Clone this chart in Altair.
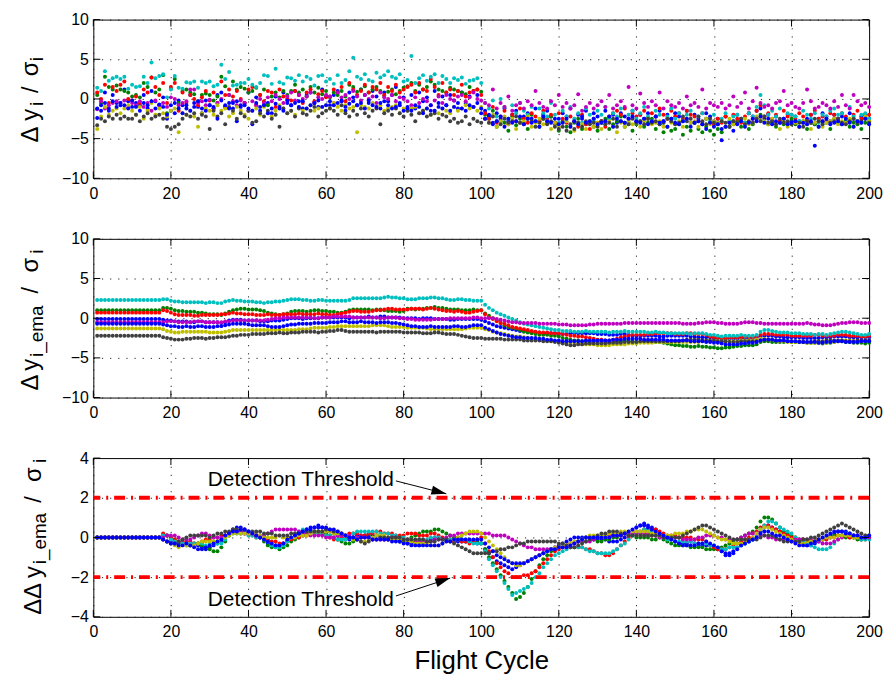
import math
import altair as alt
import pandas as pd

FONT = "Liberation Sans, Arial, Helvetica, sans-serif"
W, H = 782, 160

X_TICKS = list(range(0, 201, 20))
Y12_TICKS = [-10, -5, 0, 5, 10]
Y3_TICKS = [-4, -2, 0, 2, 4]
SERIES = ["b1", "g", "r", "c", "m", "y", "k", "b2"]
COLORS = ["#0000FF", "#008000", "#FF0000", "#00BFBF", "#BF00BF", "#BFBF00", "#404040", "#0000FF"]

# ---------- panel 1: raw normalised deltas (x10) ----------
RAW_B1 = """
-24 -15 8 -12 5 -5 -8 12 -3 -10 -5 -8 5 -12 10 -3 -8 2 -25 -15
-18 -2 -8 -12 5 -5 -10 -18 -2 -8 -12 5 8 -10 -5 -12 -28 -8 -5 8
-32 2 -15 -8 -5 -18 3 -12 8 -5 -8 10 -3 -12 5 8 -5 -10 12 3
-8 5 10 -3 -15 8 2 -8 12 5 -5 10 3 -12 8 -3 5 15 -8 2
-10 5 -12 8 -3 2 -15 10 -5 3 -8 5 -2 -12 8 -5 3 -10 5 -18
-15 -22 -30 -18 -25 -12 -28 -20 -15 -30 -22 -18 -25 -12 -28 -20 -15 -22 -30 -25
-18 -22 -12 -28 -20 -25 -15 -30 -18 -22 -28 -15 -25 -20 -30 -18 -22 -25 -15 -28
-20 -25 -18 -30 -22 -15 -28 -20 -25 -18 -22 -28 -15 -30 -20 -25 -32 -18 -22 -28
-25 -52 -22 -35 -28 -20 -25 -30 -18 -22 -15 -12 -25 -20 -28 -22 -30 -25 -20 -28
-22 -28 -30 -25 -20 -32 -25 -18 -22 -28 -20 -25 -22 -30 -18 -25 -28 -22 -20 -25
"""
RAW_G = """
5 -5 28 15 12 17 12 10 8 3 5 2 20 15 27 8 12 30 -18 13
25 -5 10 12 8 6 -3 5 7 5 -2 3 28 16 5 22 12 15 13 8
10 14 5 12 -8 3 8 2 10 5 10 18 8 12 3 15 8 14 6 10
2 8 5 10 3 18 15 9 12 16 8 12 15 10 4 9 12 6 10 14
16 20 10 18 12 15 22 18 12 10 8 14 12 10 8 6 15 10 12 9
-20 -25 -15 -35 -28 -30 -40 -22 -33 -25 -30 -38 -20 -28 -35 -25 -30 -22 -32 -40
-28 -35 -42 -30 -25 -38 -32 -28 -35 -40 -30 -25 -38 -32 -28 -22 -35 -30 -40 -32
-28 -35 -30 -25 -38 -32 -42 -35 -40 -38 -32 -45 -35 -40 -30 -38 -42 -35 -40 -45
-38 -42 -35 -30 -32 -28 -35 -30 -38 -32 -25 -20 -28 -32 -30 -35 -28 -32 -30 -25
-32 -35 -28 -38 -30 -32 -35 -28 -30 -38 -25 -30 -32 -28 -35 -30 -32 -38 -30 -28
"""
RAW_R = """
8 0 18 -5 15 10 18 22 0 -2 3 -5 12 8 27 15 5 20 -5 15
20 -15 8 -5 5 0 -8 2 10 -2 8 -5 22 5 12 3 10 0 -5 12
15 -8 5 -3 10 8 -10 12 3 0 -2 10 5 -5 8 12 -3 6 10 2
3 12 8 15 -3 20 12 5 10 18 8 15 12 20 5 15 10 18 8 12
15 18 8 20 12 10 25 15 5 20 8 12 5 10 18 3 8 10 12 5
-18 -25 -10 -30 -22 -15 -32 -20 -28 -12 -25 -30 -18 -22 -28 -15 -25 -20 -30 -18
-25 -30 -22 -28 -35 -20 -32 -38 -25 -30 -28 -35 -22 -18 -15 -20 -12 -25 -18 -22
-20 -15 -25 -18 -22 -12 -20 -25 -15 -22 -18 -25 -15 -20 -22 -28 -18 -25 -30 -32
-25 -30 -22 -28 -20 -25 -30 -22 -18 -25 -15 -8 -22 -18 -25 -20 -28 -15 -22 -20
-25 -18 -22 -28 -20 -15 -25 -22 -28 -18 -20 -25 -18 -22 -28 -20 -15 -25 -22 -20
"""
RAW_C = """
14 10 35 23 26 28 25 28 13 18 15 16 28 20 46 26 29 31 2 12
29 14 13 21 20 22 14 22 20 22 16 18 43 25 34 17 18 20 20 25
18 15 20 30 29 19 38 21 19 27 26 23 30 22 28 25 17 29 30 22
25 19 30 20 24 35 52 28 25 31 24 22 33 27 30 35 28 26 31 22
24 54 20 26 30 23 28 31 20 29 25 20 26 24 27 19 23 24 26 20
-5 -12 -2 -22 0 -10 -25 -8 -18 -5 -15 -20 -10 -28 -12 -18 -22 -5 -20 -30
-15 -22 -10 -25 -18 -30 -12 -20 -28 -15 -20 -10 -25 -18 -22 -12 -30 -20 -15 -25
-18 -10 -22 -28 -15 -20 -30 -22 -12 -25 -18 -28 -20 -15 -30 -22 -18 -25 -28 -20
-30 -25 -18 -28 -22 -20 -25 -30 -18 -22 -10 5 -8 -20 -15 -22 -12 -25 -18 -20
-22 -28 -15 -20 -25 -18 -30 -20 -22 -15 -12 -20 -18 -25 -10 -22 -28 -20 -18 -25
"""
RAW_M = """
-13 -3 -12 -8 -5 -3 -5 -2 -10 -5 -8 -3 -10 -5 -15 -2 -8 -5 -10 2
0 -8 -5 -3 12 12 -5 -3 -8 -1 -12 -5 0 -10 5 -3 -8 -2 -5 -15
-3 -8 0 -5 2 -3 5 0 -5 3 8 -2 5 0 3 8 -5 2 0 5
3 -5 8 2 5 0 10 3 -2 5 0 3 -5 8 2 0 5 -3 2 0
-3 -8 2 -5 0 -3 -8 -2 3 -5 5 0 -2 3 5 -3 2 8 0 -2
-5 -8 12 -12 -5 -10 3 -15 -8 -5 -12 -3 -8 10 -5 -10 -12 -3 -8 5
-10 -5 -12 -8 6 -15 -10 -5 -12 -8 -3 -10 5 -12 -8 -3 -10 15 -8 -12
7 -5 -10 -3 -8 8 -12 -3 -8 -10 -5 -12 3 -8 -5 -10 12 -12 -5 -8
-10 -5 -12 -8 3 -10 -5 8 -12 -3 14 -5 -10 -8 -12 -5 -3 10 -8 -5
-10 -12 -5 12 -3 -12 -10 -5 -8 -12 -3 -10 5 -8 -12 5 -3 -8 -5 -10
"""
RAW_Y = """
-38 -22 -10 -20 -15 -12 -18 -12 -8 -15 -20 -10 -25 -15 -5 -20 -12 -18 -22 -15
-12 -42 -18 -20 -15 -22 -35 -18 -12 -15 -20 -8 -15 -12 -22 -18 -10 -15 -20 -25
-15 -12 -20 -10 -18 -22 -15 -8 -12 -18 -15 -20 -10 -15 -12 -8 -15 -12 -10 -8
-12 -5 -10 -15 -8 -12 -10 -42 -8 -10 -12 -5 -10 -8 -15 -12 -10 -8 -18 -12
-15 -12 -10 -18 -15 -12 -20 -15 -18 -12 -15 -18 -10 -15 -12 -8 -12 -10 -15 -10
-25 -30 -20 -35 -28 -22 -32 -25 -38 -30 -28 -22 -35 -30 -25 -32 -28 -38 -30 -35
-30 -28 -35 -40 -30 -32 -38 -28 -35 -30 -38 -32 -28 -35 -42 -30 -35 -28 -32 -30
-35 -28 -25 -32 -30 -28 -35 -25 -30 -32 -28 -35 -25 -30 -28 -35 -30 -25 -32 -28
-30 -28 -35 -25 -32 -30 -28 -25 -32 -30 -22 -25 -28 -32 -25 -30 -38 -28 -35 -32
-30 -35 -28 -32 -38 -30 -28 -35 -30 -28 -25 -32 -28 -30 -25 -35 -28 -30 -22 -28
"""
RAW_K = """
-33 -25 -28 -22 -25 -20 -25 -22 -25 -25 -20 -28 -22 -18 -25 -22 -20 -25 -35 -38
-35 -32 -25 -20 -22 -18 -25 -20 -22 -38 -15 -22 -18 -32 -10 -15 -25 -18 -22 -15
-30 -28 -18 -22 -15 -25 -20 -35 -12 -18 -15 -22 -12 -18 -20 -15 -10 -22 -18 -15
-12 -15 -20 -8 -18 -22 -15 -20 -12 -18 -22 -15 -12 -32 -18 -15 -20 -12 -18 -22
-15 -20 -28 -18 -15 -22 -20 -18 -25 -20 -22 -28 -25 -30 -28 -22 -32 -25 -28 -30
-25 -30 -22 -28 -32 -25 -30 -28 -22 -30 -32 -25 -28 -35 -30 -25 -32 -28 -35 -38
-35 -40 -32 -38 -30 -35 -28 -32 -30 -35 -28 -32 -30 -25 -35 -28 -30 -32 -25 -30
-28 -32 -25 -30 -28 -32 -30 -25 -28 -32 -30 -22 -28 -25 -30 -22 -28 -32 -25 -30
-32 -28 -30 -35 -28 -30 -25 -32 -28 -30 -25 -28 -22 -30 -28 -32 -25 -30 -28 -32
-28 -30 -35 -28 -30 -25 -28 -32 -25 -30 -28 -25 -30 -32 -28 -25 -30 -28 -25 -30
"""
RAW_B2 = """
-12 -8 -5 -15 -3 -10 -5 -8 -12 -2 -10 -15 -5 -8 -3 -12 -7 -10 -20 -8
-5 -12 -18 -8 -15 -10 -3 -12 -15 -8 -10 -25 -2 -8 -12 -5 -3 -10 -8 -12
-15 -5 -10 -8 -18 -12 -6 -10 -15 -2 -8 -5 -10 -3 -12 -8 -5 -2 -10 -8
-3 -8 -5 -2 -10 -6 -3 -8 -5 -12 -2 -8 -10 -5 -3 -8 -12 -10 -5 -15
-12 -15 -8 -10 -18 -12 -8 -15 -10 -12 -8 -15 -10 -5 -12 -15 -8 -10 -5 -12
-25 -20 -32 -28 -22 -35 -25 -30 -28 -22 -32 -25 -30 -28 -35 -22 -28 -30 -25 -32
-30 -25 -35 -28 -32 -22 -30 -28 -25 -32 -30 -28 -22 -35 -25 -28 -30 -25 -22 -28
-30 -25 -32 -28 -22 -30 -28 -35 -25 -30 -32 -28 -25 -35 -30 -28 -32 -38 -30 -35
-32 -38 -35 -30 -40 -32 -28 -35 -30 -25 -28 -22 -30 -25 -32 -28 -30 -25 -32 -30
-28 -35 -30 -32 -28 -59 -35 -28 -25 -32 -30 -28 -32 -25 -30 -35 -28 -30 -25 -32
"""

# ---------- panel 2: EMA of normalised deltas (x10) ----------
EMA_B1 = """
-1 -1 -1 -1 -1 -1 -1 -1 -1 -1 -1 -1 -1 -1 -1 -1 -1 -2 -3 -3
-4 -4 -4 -4 -5 -5 -4 -4 -5 -5 -5 -5 -6 -5 -3 -2 -2 -2 -3 -3
-3 -3 -4 -4 -4 -3 -3 -3 -2 -1 0 0 0 -1 0 0 0 0 1 1
1 1 1 1 1 0 1 1 1 1 2 1 1 2 2 1 1 1 1 0
0 0 0 -1 0 0 0 -1 -1 -1 -1 -2 -2 -1 -1 -1 -1 -1 -1 -2
-4 -6 -8 -10 -11 -12 -13 -14 -15 -16 -16 -17 -17 -18 -18 -19 -19 -19 -19 -20
-20 -20 -19 -19 -19 -19 -19 -19 -19 -20 -20 -20 -21 -21 -21 -20 -20 -21 -22 -22
-22 -22 -22 -22 -22 -23 -23 -22 -22 -22 -22 -22 -22 -23 -23 -24 -24 -24 -24 -25
-25 -26 -26 -26 -26 -26 -25 -25 -25 -25 -24 -23 -22 -22 -22 -23 -23 -24 -24 -24
-24 -24 -25 -25 -25 -25 -25 -24 -24 -24 -23 -23 -23 -23 -24 -24 -24 -24 -24 -24
"""
EMA_G = """
10 10 10 10 10 10 10 10 10 10 10 10 10 10 10 10 10 13 13 12
10 9 9 8 8 8 7 7 6 5 5 5 4 6 8 10 11 12 12 11
11 11 10 9 7 6 5 4 5 6 8 9 9 9 8 9 10 10 9 9
8 8 7 7 8 10 11 11 11 11 11 10 11 11 10 9 9 9 8 9
12 12 11 12 12 13 13 14 13 13 12 11 11 11 10 10 10 11 10 10
6 3 0 -3 -6 -9 -11 -12 -13 -15 -17 -18 -19 -20 -21 -21 -21 -22 -22 -23
-25 -26 -27 -28 -28 -29 -29 -30 -29 -30 -30 -30 -31 -30 -29 -29 -28 -29 -29 -30
-30 -29 -29 -29 -30 -30 -31 -32 -33 -34 -34 -35 -35 -36 -36 -35 -36 -36 -37 -37
-38 -38 -37 -37 -36 -35 -35 -34 -34 -34 -33 -30 -29 -29 -30 -30 -30 -30 -29 -30
-30 -30 -30 -31 -31 -31 -31 -32 -31 -31 -30 -29 -29 -30 -30 -31 -31 -31 -32 -31
"""
EMA_R = """
7 7 7 7 7 7 7 7 7 7 7 7 7 7 7 7 7 10 9 7
5 4 4 4 4 3 3 4 4 4 4 4 5 5 6 7 6 6 5 5
5 4 4 4 5 4 4 4 5 5 5 5 6 5 5 5 5 6 5 5
4 4 5 6 7 8 9 9 8 8 8 9 10 10 11 12 12 11 11 11
11 12 12 12 11 12 13 12 11 10 9 9 8 9 8 7 7 8 9 10
5 1 -1 -4 -6 -7 -9 -11 -12 -13 -14 -15 -16 -17 -18 -18 -18 -19 -19 -19
-20 -21 -22 -22 -23 -23 -24 -25 -26 -27 -27 -28 -28 -27 -26 -24 -23 -22 -21 -21
-21 -21 -20 -20 -19 -19 -19 -19 -19 -20 -20 -20 -19 -19 -20 -20 -20 -21 -23 -24
-25 -25 -25 -24 -24 -24 -24 -23 -24 -24 -23 -21 -20 -20 -20 -21 -21 -21 -21 -22
-22 -22 -22 -22 -22 -21 -21 -22 -22 -22 -22 -21 -21 -21 -22 -22 -22 -23 -23 -22
"""
EMA_C = """
23 23 23 23 23 23 23 23 23 23 23 23 23 23 23 23 23 24 24 22
21 21 20 20 20 20 20 20 19 20 20 19 19 21 22 23 22 22 21 21
21 20 20 19 20 20 21 21 22 23 24 24 24 23 23 22 22 23 23 22
22 22 22 22 22 23 25 25 25 25 25 25 25 25 26 27 26 26 25 25
24 24 24 25 25 25 26 26 25 25 24 23 23 24 24 23 23 22 22 22
17 13 10 7 5 3 1 -1 -3 -5 -7 -8 -9 -10 -11 -12 -13 -14 -15 -15
-16 -16 -16 -17 -17 -17 -16 -17 -17 -17 -17 -17 -18 -17 -17 -17 -16 -17 -17 -17
-17 -17 -18 -18 -17 -18 -18 -19 -19 -19 -19 -19 -19 -20 -19 -19 -19 -20 -21 -21
-22 -23 -22 -22 -22 -22 -21 -22 -22 -22 -21 -17 -15 -15 -16 -17 -18 -18 -18 -19
-19 -19 -20 -20 -20 -21 -20 -20 -21 -20 -19 -18 -17 -17 -18 -19 -20 -21 -21 -20
"""
EMA_M = """
-5 -5 -5 -5 -5 -5 -5 -5 -5 -5 -5 -5 -5 -5 -5 -5 -5 -5 -4 -4
-4 -5 -5 -5 -5 -4 -4 -4 -5 -5 -5 -5 -5 -4 -4 -3 -3 -3 -3 -3
-3 -3 -3 -3 -2 -1 0 0 1 1 1 1 1 1 1 1 0 0 1 1
1 2 2 2 2 2 1 1 1 1 1 1 1 0 0 1 1 1 0 0
-1 -1 -2 -2 -2 -2 -2 -1 -1 -1 -1 0 0 0 0 0 0 1 1 0
0 0 0 -1 -2 -3 -4 -5 -5 -6 -6 -6 -6 -6 -7 -7 -7 -7 -7 -8
-8 -8 -9 -9 -9 -9 -9 -8 -8 -7 -7 -7 -7 -7 -7 -7 -6 -6 -6 -6
-6 -6 -6 -6 -6 -6 -6 -6 -6 -6 -6 -7 -7 -7 -7 -6 -6 -5 -5 -5
-6 -6 -7 -7 -7 -7 -6 -5 -5 -5 -6 -6 -7 -7 -7 -7 -7 -7 -7 -7
-7 -7 -7 -6 -7 -8 -8 -9 -9 -9 -8 -7 -6 -6 -5 -5 -5 -6 -6 -6
"""
EMA_Y = """
-13 -13 -13 -13 -13 -13 -13 -13 -13 -13 -13 -13 -13 -13 -13 -13 -13 -14 -16 -17
-18 -18 -17 -17 -17 -17 -17 -17 -17 -18 -18 -18 -18 -17 -16 -15 -15 -15 -15 -15
-15 -15 -15 -15 -15 -15 -15 -14 -15 -15 -15 -15 -14 -14 -14 -13 -12 -12 -12 -12
-11 -11 -10 -10 -10 -10 -10 -10 -10 -10 -10 -9 -9 -9 -9 -10 -11 -11 -11 -11
-12 -12 -12 -12 -12 -13 -14 -14 -14 -14 -14 -14 -14 -14 -14 -13 -12 -12 -12 -12
-14 -15 -17 -18 -19 -20 -21 -22 -23 -23 -24 -25 -26 -27 -27 -28 -28 -29 -29 -30
-30 -31 -31 -31 -32 -32 -33 -33 -33 -34 -34 -34 -34 -33 -33 -33 -33 -32 -32 -32
-31 -31 -31 -31 -30 -30 -30 -30 -30 -30 -30 -30 -30 -30 -30 -30 -29 -29 -29 -29
-29 -29 -29 -29 -29 -29 -28 -28 -28 -28 -27 -26 -26 -27 -27 -28 -29 -29 -30 -30
-30 -30 -30 -31 -31 -31 -31 -31 -31 -30 -30 -29 -28 -28 -28 -29 -29 -29 -28 -28
"""
EMA_K = """
-22 -22 -22 -22 -22 -22 -22 -22 -22 -22 -22 -22 -22 -22 -22 -22 -22 -24 -25 -26
-27 -27 -27 -26 -26 -25 -25 -25 -26 -25 -25 -24 -24 -24 -23 -22 -22 -21 -21 -21
-20 -20 -20 -20 -19 -19 -19 -18 -19 -19 -18 -18 -18 -17 -17 -17 -17 -18 -17 -17
-16 -16 -15 -15 -16 -17 -17 -17 -17 -17 -17 -17 -18 -17 -17 -17 -17 -17 -17 -18
-18 -18 -18 -18 -19 -19 -19 -18 -18 -19 -20 -20 -20 -21 -22 -23 -24 -25 -25 -25
-26 -26 -26 -26 -26 -27 -27 -27 -27 -27 -28 -28 -28 -28 -28 -29 -29 -29 -30 -31
-32 -33 -34 -34 -33 -33 -32 -32 -32 -32 -32 -32 -31 -31 -31 -31 -30 -30 -30 -30
-29 -29 -29 -29 -29 -29 -29 -29 -29 -29 -29 -28 -27 -27 -27 -27 -28 -28 -28 -28
-29 -29 -29 -30 -30 -30 -29 -29 -29 -29 -29 -28 -27 -27 -27 -28 -28 -28 -29 -29
-29 -29 -30 -30 -30 -29 -29 -29 -28 -28 -28 -28 -28 -29 -29 -29 -28 -28 -28 -28
"""
EMA_B2 = """
-7 -7 -7 -7 -7 -7 -7 -7 -7 -7 -7 -7 -7 -7 -7 -7 -7 -8 -9 -10
-10 -11 -11 -10 -11 -11 -10 -10 -11 -11 -11 -10 -10 -9 -8 -7 -7 -7 -7 -8
-9 -9 -9 -9 -10 -11 -11 -11 -10 -9 -8 -8 -7 -7 -7 -7 -6 -6 -6 -6
-5 -5 -5 -4 -4 -5 -5 -5 -4 -5 -5 -5 -6 -5 -5 -5 -6 -6 -7 -8
-9 -10 -10 -11 -11 -11 -10 -11 -11 -11 -11 -11 -10 -10 -11 -11 -10 -9 -9 -9
-12 -14 -16 -18 -20 -21 -22 -23 -24 -24 -25 -25 -25 -25 -26 -26 -27 -27 -28 -28
-29 -29 -29 -29 -29 -29 -28 -28 -28 -28 -28 -28 -28 -27 -27 -27 -26 -26 -26 -26
-26 -27 -27 -27 -27 -27 -27 -28 -28 -28 -28 -28 -28 -29 -29 -29 -29 -30 -30 -31
-31 -32 -33 -33 -33 -33 -32 -32 -31 -31 -30 -28 -27 -27 -27 -28 -28 -28 -29 -29
-29 -30 -30 -30 -30 -30 -31 -31 -30 -30 -29 -29 -29 -30 -30 -30 -30 -29 -29 -29
"""

# ---------- panel 3: change of EMA (x10) ----------
DD_B1 = """
0 0 0 0 0 0 0 0 0 0 0 0 0 0 0 0 0 -1 -2 -2
-3 -3 -3 -3 -4 -4 -4 -5 -6 -5 -4 -3 -2 0 2 4 5 5 4 3
2 1 0 -1 -3 -4 -4 -4 -3 -2 0 1 2 3 4 5 5 6 5 4
3 2 1 0 -1 -1 0 1 1 1 2 1 1 0 -1 -1 -1 -1 -2 -2
-3 -3 -3 -4 -3 -2 -1 0 0 -1 -1 -1 -2 -2 -2 -2 -2 -2 -3 -3
-6 -8 -10 -12 -13 -14 -15 -16 -15 -14 -13 -12 -11 -10 -9 -8 -7 -6 -5 -4
-3 -2 -1 0 0 0 0 -1 -1 -1 -1 -1 -2 -2 -2 -1 0 1 3 5
6 7 6 5 4 2 0 -1 -1 -2 -3 -3 -3 -2 -3 -4 -4 -4 -4 -5
-6 -7 -8 -8 -7 -5 -4 -3 -2 -1 0 3 5 6 5 4 3 2 1 0
-1 -2 -3 -4 -4 -3 -2 -1 0 1 2 3 3 3 2 1 1 0 0 0
"""
DD_G = """
0 0 0 0 0 0 0 0 0 0 0 0 0 0 0 0 0 1 1 0
-1 -2 -3 -4 -4 -3 -3 -4 -5 -6 -7 -7 -5 -2 1 4 3 3 3 2
2 1 0 -2 -4 -5 -5 -6 -5 -4 -2 -1 0 1 2 3 3 3 2 2
1 0 -1 -2 -3 -3 -2 -1 0 1 1 0 1 1 0 -1 -1 -1 -2 -2
-1 0 1 2 3 3 3 4 4 3 2 1 0 0 -1 -2 -2 -2 -2 -3
-6 -10 -13 -16 -19 -22 -25 -28 -31 -30 -28 -25 -21 -17 -14 -11 -9 -7 -6 -5
-4 -4 -3 -3 -2 -1 0 0 -1 -2 -2 -1 -1 0 0 1 2 1 1 0
0 0 0 -1 -1 0 -1 -2 -3 -4 -4 -4 -4 -5 -5 -5 -5 -6 -6 -6
-6 -5 -4 -3 -2 -1 0 1 2 3 5 8 10 10 9 7 5 3 2 1
0 -1 -1 -1 -2 -2 -1 -1 0 0 1 1 1 0 0 0 -1 -1 0 0
"""
DD_R = """
0 0 0 0 0 0 0 0 0 0 0 0 0 0 0 0 0 2 1 0
-1 -2 -2 -2 -2 -3 -3 -2 -1 -1 0 0 1 1 2 3 3 2 2 2
1 0 0 -1 -1 -2 -2 -3 -3 -2 -1 0 0 1 1 2 2 2 2 1
0 -1 -1 0 1 2 2 2 1 1 2 2 3 3 2 2 2 1 1 1
2 2 2 1 1 1 2 2 1 0 -1 -1 -2 -1 -2 -2 -3 -2 -1 0
-3 -7 -10 -13 -15 -17 -18 -20 -20 -20 -19 -19 -18 -17 -15 -13 -11 -9 -7 -6
-5 -5 -5 -5 -5 -5 -6 -6 -7 -8 -8 -9 -9 -8 -6 -4 -2 0 2 3
3 4 4 4 4 3 2 1 1 1 0 0 0 0 -1 -1 -1 -2 -4 -5
-6 -6 -6 -5 -4 -3 -2 -1 0 2 3 5 6 6 5 4 3 2 1 0
0 -1 -1 -2 -2 -1 -1 -1 -1 0 0 1 1 1 0 0 0 -1 -1 0
"""
DD_C = """
0 0 0 0 0 0 0 0 0 0 0 0 0 0 0 0 0 1 1 -1
-2 -2 -3 -3 -3 -3 -3 -3 -4 -3 -3 -3 -3 -1 1 2 2 2 2 1
1 0 0 -1 -2 -4 -5 -5 -4 -2 0 2 3 4 4 3 2 2 2 1
1 0 -1 -1 -1 0 2 3 3 3 3 3 3 2 2 2 1 1 0 0
-1 -1 -2 -1 -1 -1 0 0 0 -1 -1 -1 -1 -1 -1 -1 -2 -3 -3 -3
-7 -11 -14 -17 -20 -23 -26 -29 -28 -27 -26 -25 -23 -20 -18 -15 -13 -11 -9 -8
-7 -6 -5 -5 -5 -5 -6 -7 -7 -8 -8 -8 -8 -7 -6 -4 -3 -1 1 2
3 4 4 3 2 1 0 -1 -1 -2 -2 -2 -2 -2 -3 -3 -3 -3 -4 -4
-5 -6 -6 -5 -5 -5 -4 -3 -2 -1 1 4 6 8 8 7 5 4 3 2
0 -1 -2 -3 -4 -5 -6 -6 -6 -5 -3 -1 1 2 2 1 0 -1 -1 -1
"""
DD_M = """
0 0 0 0 0 0 0 0 0 0 0 0 0 0 0 0 0 0 1 1
1 0 -1 -1 -1 0 1 2 2 1 0 0 0 1 2 3 3 3 2 2
2 1 1 1 2 3 4 4 4 4 4 4 3 2 2 1 1 1 1 0
0 0 1 1 1 1 0 0 0 0 0 -1 -1 -1 -1 -1 0 0 -1 -1
-1 -2 -2 -2 -2 -2 -2 -1 -1 -1 0 1 1 2 2 2 2 2 2 2
2 2 1 1 1 1 0 -1 -2 -3 -4 -5 -5 -6 -6 -6 -6 -6 -5 -5
-5 -4 -3 -3 -2 -2 -2 -2 -1 0 1 1 1 1 1 1 2 2 2 2
2 2 2 1 1 0 0 0 0 0 0 -1 -1 -1 -1 0 0 1 1 1
0 0 -1 -1 -1 -1 0 1 2 2 2 1 1 0 0 -1 -1 -1 -1 -1
-1 -1 -1 -1 -1 -2 -2 -3 -3 -3 -2 -1 0 1 1 1 1 0 0 0
"""
DD_Y = """
0 0 0 0 0 0 0 0 0 0 0 0 0 0 0 0 0 -1 -2 -3
-4 -5 -4 -4 -4 -4 -3 -2 -2 -2 -2 -2 -1 0 1 2 2 2 2 2
2 2 1 0 0 0 0 1 0 0 0 0 1 1 1 2 3 3 3 3
3 2 2 2 1 0 -1 -1 -2 -2 -1 0 1 1 1 0 -1 -1 -1 -1
-2 -2 -3 -3 -3 -3 -4 -4 -4 -3 -2 -2 -1 0 1 2 3 3 3 2
0 -2 -4 -6 -8 -10 -12 -13 -14 -14 -13 -12 -11 -10 -9 -8 -7 -6 -5 -5
-4 -4 -3 -2 -2 -1 0 1 1 1 1 1 2 2 2 3 3 3 3 3
3 3 3 2 2 1 1 1 1 2 2 2 3 3 4 4 4 3 2 1
0 -1 -1 -2 -3 -3 -3 -2 -1 0 2 4 5 5 4 3 2 1 0 -1
-2 -3 -3 -2 -2 -1 -1 -1 0 0 0 1 1 1 1 0 0 0 1 1
"""
DD_K = """
0 0 0 0 0 0 0 0 0 0 0 0 0 0 0 0 0 -1 -2 -3
-3 -2 -1 0 1 1 1 1 1 0 1 2 2 3 3 4 4 4 4 3
3 3 3 2 2 2 1 1 1 1 2 2 2 3 3 3 3 3 3 4
4 3 3 2 1 0 0 -1 -2 -3 -2 -1 -1 0 0 0 0 0 0 -1
-1 -1 -1 -1 -1 -2 -2 -2 -1 -1 -1 -2 -3 -4 -5 -6 -7 -8 -8 -8
-8 -8 -7 -7 -6 -6 -5 -5 -4 -3 -3 -2 -2 -2 -2 -2 -2 -2 -2 -3
-3 -4 -5 -5 -4 -3 -2 -1 0 1 2 2 3 3 3 2 2 1 1 1
1 1 1 1 1 1 0 0 0 0 0 1 2 3 4 5 6 6 5 4
3 2 1 0 -1 -1 -1 -1 -1 -1 -1 0 1 1 1 0 -1 -2 -2 -2
-2 -2 -1 -1 0 0 1 2 3 4 5 6 7 6 5 4 3 2 1 1
"""
DD_B2 = """
0 0 0 0 0 0 0 0 0 0 0 0 0 0 0 0 0 -1 -2 -3
-3 -4 -4 -3 -4 -5 -6 -6 -5 -4 -3 -2 -1 1 2 3 3 4 4 3
2 1 0 -1 -2 -3 -4 -4 -3 -1 0 1 2 3 4 4 5 5 5 5
4 4 3 2 1 0 0 -1 0 0 0 -1 -1 -1 -1 -1 -2 -2 -2 -3
-3 -4 -4 -4 -4 -4 -4 -4 -4 -3 -2 -2 -1 -1 -1 -1 -1 -1 -1 -1
-3 -5 -7 -9 -10 -11 -12 -13 -13 -13 -13 -12 -11 -10 -9 -8 -7 -6 -6 -5
-5 -5 -4 -3 -2 -1 0 0 0 0 0 0 0 1 1 1 2 3 4 5
6 6 5 4 3 2 1 0 -1 -2 -3 -4 -4 -4 -4 -3 -3 -2 -3 -4
-5 -7 -9 -9 -8 -6 -4 -3 -2 -1 0 2 3 3 2 1 1 0 -1 -2
-3 -4 -4 -4 -3 -2 -1 0 1 2 3 3 3 2 2 1 1 0 0 1
"""

THRESH = [2, -2]
ANN_TEXT = ["Detection Threshold", "Detection Threshold"]
ANN_X = [53.5, 53.5]
ANN_Y = [2.9, -3.14]
ARR_X0 = [78.0, 78.0]
ARR_Y0 = [2.85, -2.95]
ARR_X1 = [91.0, 92.0]
ARR_Y1 = [2.2, -2.05]


def vals(s):
    return [int(t) / 10 for t in s.split()]


def frame(strings):
    rows = []
    for k, (name, s) in enumerate(zip(SERIES, strings)):
        for i, v in enumerate(vals(s)):
            rows.append({"x": i + 1, "v": v, "s": name, "o": k})
    return pd.DataFrame(rows)


df1 = frame([RAW_B1, RAW_G, RAW_R, RAW_C, RAW_M, RAW_Y, RAW_K, RAW_B2])
df2 = frame([EMA_B1, EMA_G, EMA_R, EMA_C, EMA_M, EMA_Y, EMA_K, EMA_B2])
df3 = frame([DD_B1, DD_G, DD_R, DD_C, DD_M, DD_Y, DD_K, DD_B2])

GRID = dict(grid=True, gridDash=[1.2, 7], gridColor="#222", gridWidth=1,
            ticks=False, domain=False, labelFlush=False,
            labelFont=FONT, labelFontSize=16, labelColor="black")


def x_enc(title=None):
    if title:
        ax = alt.Axis(values=X_TICKS, format="d", labelPadding=7, title=title,
                      titleFont=FONT, titleColor="black",
                      titleFontSize=26, titlePadding=8, titleFontWeight="normal", **GRID)
    else:
        ax = alt.Axis(values=X_TICKS, format="d", labelPadding=7, title=None, **GRID)
    return alt.X("x:Q", scale=alt.Scale(domain=[0, 200], nice=False, zero=False), axis=ax)


def y_enc(dom, ticks):
    return alt.Y("v:Q", scale=alt.Scale(domain=dom, nice=False, zero=False),
                 axis=alt.Axis(values=ticks, format="d", labelPadding=5, title=None, **GRID))


def title_layers(pieces):
    out = []
    for text, px, py, fs in pieces:
        out.append(
            alt.Chart(alt.Data(values=[{"t": text}]))
            .mark_text(angle=270, align="left", baseline="alphabetic", font=FONT,
                       fontSize=fs, color="black")
            .encode(text="t:N", x=alt.value(px), y=alt.value(py))
        )
    return out


def panel(df, dom, ticks, pieces, xtitle=None, extra=()):
    X = x_enc(xtitle)
    Y = y_enc(dom, ticks)
    pts = alt.Chart(df).mark_circle(size=16, opacity=1).encode(
        x=X, y=Y,
        color=alt.Color("s:N", scale=alt.Scale(domain=SERIES, range=COLORS), legend=None),
        order=alt.Order("o:Q"),
    )
    xt = pd.DataFrame({"x": X_TICKS})
    yt = pd.DataFrame({"v": ticks})
    tk = dict(color="black", strokeWidth=1)
    t_top = alt.Chart(xt).mark_rule(**tk).encode(x=X, y=alt.value(0), y2=alt.value(7))
    t_bot = alt.Chart(xt).mark_rule(**tk).encode(x=X, y=alt.value(H), y2=alt.value(H - 7))
    t_lft = alt.Chart(yt).mark_rule(**tk).encode(y=Y, x=alt.value(0), x2=alt.value(7))
    t_rgt = alt.Chart(yt).mark_rule(**tk).encode(y=Y, x=alt.value(W), x2=alt.value(W - 7))
    layers = [pts, t_top, t_bot, t_lft, t_rgt] + [f(X, Y) for f in extra] + title_layers(pieces)
    return alt.layer(*layers).properties(width=W, height=H)


def thresholds(X, Y):
    return alt.Chart(pd.DataFrame({"v": THRESH})).mark_rule(
        color="#FF0000", strokeWidth=4, strokeDash=[11, 6, 2, 6]).encode(y=Y)


def ann_text(X, Y):
    d = pd.DataFrame({"x": ANN_X, "v": ANN_Y, "t": ANN_TEXT})
    return alt.Chart(d).mark_text(font=FONT, fontSize=21, align="center", baseline="middle",
                                  color="black").encode(x=X, y=Y, text="t:N")


def ann_line(X, Y):
    d = pd.DataFrame({"x": ARR_X0, "v": ARR_Y0, "x2": ARR_X1, "v2": ARR_Y1})
    return alt.Chart(d).mark_rule(color="black", strokeWidth=1).encode(
        x=X, y=Y, x2="x2:Q", y2="v2:Q")


def ann_head(X, Y):
    px_x = W / 200.0
    px_y = H / 8.0
    ang = []
    for x0, y0, x1, y1 in zip(ARR_X0, ARR_Y0, ARR_X1, ARR_Y1):
        a = math.degrees(math.atan2(-(y1 - y0) * px_y, (x1 - x0) * px_x))
        ang.append(a % 360)
    d = pd.DataFrame({"x": ARR_X1, "v": ARR_Y1, "a": ang})
    return alt.Chart(d).mark_point(shape="M0,0L-1,-0.3L-1,0.3Z", filled=True, color="black",
                                   size=900, opacity=1, strokeWidth=0).encode(
        x=X, y=Y, angle=alt.Angle("a:Q", scale=None))


MAIN, SUB = 24, 19
T1 = [("Δ", -56, 124, MAIN), ("y", -56, 102, MAIN), ("i", -51, 87, SUB),
      ("/", -56, 74, MAIN), ("σ", -56, 57, MAIN), ("i", -51, 42, SUB)]
T2 = [("Δ", -56, 153, MAIN), ("y", -56, 133, MAIN), ("i_ema", -51, 119, SUB),
      ("/", -56, 55, MAIN), ("σ", -56, 34, MAIN), ("i", -51, 15, SUB)]
T3 = [("ΔΔ", -53, 158, MAIN), ("y", -53, 121, MAIN), ("i_ema", -48, 107, SUB),
      ("/", -53, 45, MAIN), ("σ", -53, 24, MAIN), ("i", -48, 5, SUB)]

p1 = panel(df1, [-10, 10], Y12_TICKS, T1)
p2 = panel(df2, [-10, 10], Y12_TICKS, T2)
p3 = panel(df3, [-4, 4], Y3_TICKS, T3, xtitle="Flight Cycle",
           extra=(thresholds, ann_line, ann_head, ann_text))

chart = (
    alt.vconcat(p1, p2, p3, spacing=28)
    .properties(padding={"left": 10, "top": 0, "right": 0, "bottom": 0},
                background="white")
    .configure_view(stroke="black", strokeWidth=1)
    .configure_axis(labelFont=FONT, labelFontSize=16, labelColor="black",
                    titleFont=FONT, titleColor="black")
)

chart.save("out.html", embed_options={"renderer": "svg", "actions": False})
